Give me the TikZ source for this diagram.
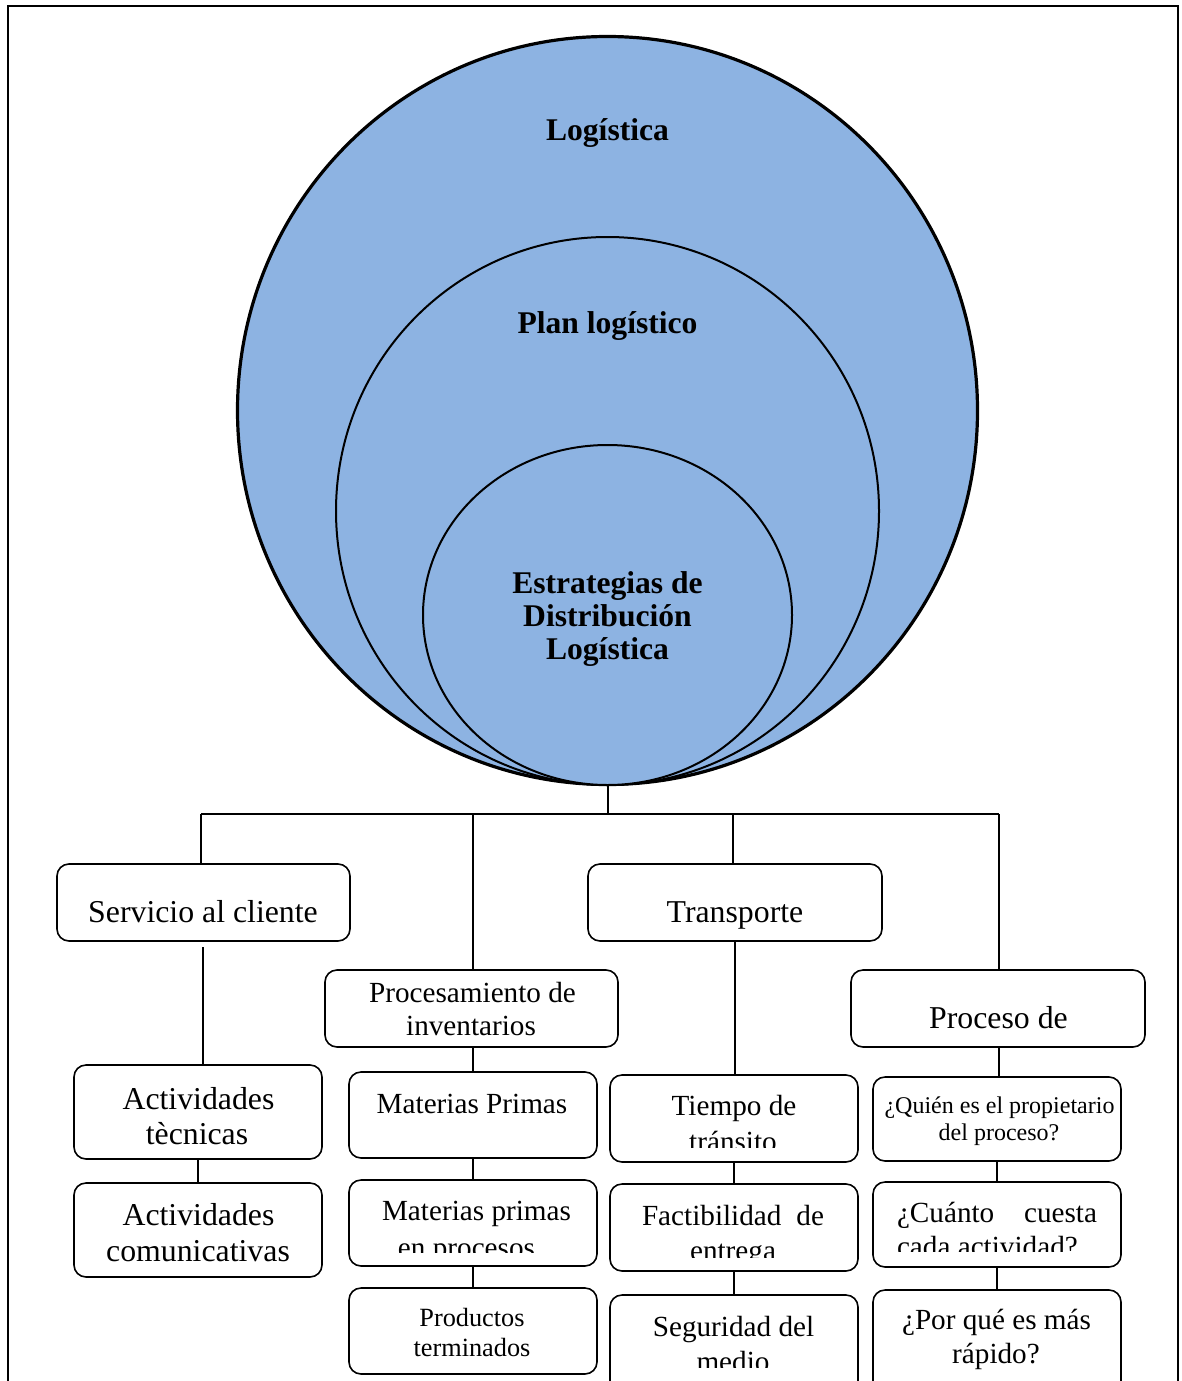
\documentclass[tikz,border=0pt]{standalone}
\usepackage{fontspec}
\setmainfont{Liberation Serif}
\usetikzlibrary{shapes.geometric}
\definecolor{disc}{RGB}{141,179,226}

\tikzset{
  ring/.style={ellipse, draw, fill=disc, inner sep=0pt, outer sep=0pt},
  tbox/.style={draw, rounded corners=12pt, line width=1.6pt, inner sep=0pt, outer sep=0pt},
  link/.style={line width=1.7pt},
  lab/.style={inner sep=0pt, outer sep=0pt, anchor=base},
  fA/.style={font=\fontsize{31.8}{33}\selectfont},
  fB/.style={font=\fontsize{29.2}{31}\selectfont},
  fC/.style={font=\fontsize{26.3}{28}\selectfont},
  fD/.style={font=\fontsize{24}{26}\selectfont},
  fH/.style={font=\bfseries\fontsize{31.6}{33}\selectfont},
}

% box: name, x1, y1, x2, y2
\newcommand\boxat[5]{%
  \node[tbox, minimum width={#4-#2}, minimum height={#5-#3}] (#1) at ({(#2+#4)/2},{(#3+#5)/2}) {};}
% text line clipped to a region: name, style, x, baseline, x1, y1, x2, y2, text
\newcommand\cliptext[9]{%
  \begin{scope}
    \clip (#5,#6) rectangle (#7,#8);
    \node[lab,#2] (#1) at (#3,#4) {#9};
  \end{scope}}

\begin{document}
\begin{tikzpicture}[x=1pt,y=-1pt]
  \clip (0,0) rectangle (1181,1381);

  % outer frame
  \draw[line width=2pt] (7.5,1381) -- (7.5,6.5) -- (1177.5,6.5) -- (1177.5,1381);

  % nested discs
  \node[ring, line width=3.2pt, minimum width=740, minimum height=748] (outer) at (607.5,410.5) {};
  \node[ring, line width=2pt, minimum width=543, minimum height=548] (mid) at (607.5,511) {};
  \node[ring, line width=2pt, minimum width=369, minimum height=340] (inn) at (607.5,615) {};

  \node[lab,fH] (hL) at (607.5,140) {Logística};
  \node[lab,fH] (hP) at (607.5,333) {Plan logístico};
  \node[lab,fH] (hE1) at (607.5,593) {Estrategias de};
  \node[lab,fH] (hE2) at (607.5,626) {Distribución};
  \node[lab,fH] (hE3) at (607.5,659) {Logística};

  % first level
  \boxat{svc}{57}{864}{350}{941}
  \boxat{tra}{588}{864}{882}{941}
  \boxat{pro}{325}{970}{618}{1047}
  \boxat{pde}{851}{970}{1145}{1047}

  \node[lab,fA] (t1) at (203,922) {Servicio al cliente};
  \node[lab,fA] (t2) at (735,922) {Transporte};
  \node[lab,fB] (t3) at (472.5,1002) {Procesamiento de};
  \node[lab,fB] (t4) at (471,1035) {inventarios};
  \node[lab,fA] (t5) at (998.5,1028) {Proceso de};

  % customer service column
  \boxat{at1}{74}{1065}{322}{1159}
  \boxat{at2}{74}{1183}{322}{1277}
  \node[lab,fA] (t6) at (198.5,1109) {Actividades};
  \node[lab,fA] (t7) at (197,1144) {tècnicas};
  \node[lab,fA] (t8) at (198.5,1225) {Actividades};
  \node[lab,fA] (t9) at (198,1261) {comunicativas};

  % inventory column
  \boxat{mp1}{349}{1072}{597}{1158}
  \boxat{mp2}{349}{1180}{597}{1266}
  \boxat{mp3}{349}{1288}{597}{1374}
  \node[lab,fB] (t10) at (472,1113) {Materias Primas};
  \node[lab,fB] (t11) at (476.5,1220) {Materias primas};
  \cliptext{t12}{fB}{466.5}{1257}{349}{1180}{597}{1252}{en procesos}
  \node[lab,fC] (t13) at (472,1326) {Productos};
  \node[lab,fC] (t14) at (472,1356) {terminados};

  % transport column
  \boxat{tr1}{610}{1075}{858}{1162}
  \boxat{tr2}{610}{1184}{858}{1271}
  \boxat{tr3}{610}{1295}{858}{1400}
  \node[lab,fB] (t15) at (734,1115) {Tiempo de};
  \cliptext{t16}{fB}{733}{1151}{610}{1075}{858}{1147}{tránsito}
  \node[lab,fB] (t17) at (733,1225) {\makebox[182pt][s]{Factibilidad\hfill de}};
  \cliptext{t18}{fB}{733}{1260}{610}{1184}{858}{1257}{entrega}
  \node[lab,fB] (t19) at (733.5,1336) {Seguridad del};
  \cliptext{t20}{fB}{733}{1371}{610}{1295}{858}{1367}{medio}

  % process column
  \boxat{pq1}{873}{1077}{1121}{1161}
  \boxat{pq2}{873}{1182}{1121}{1267}
  \boxat{pq3}{873}{1290}{1121}{1400}
  \node[lab,fD] (t21) at (999.5,1113) {¿Quién es el propietario};
  \node[lab,fD] (t22) at (999,1140) {del proceso?};
  \node[lab,fB] (t23) at (997,1222) {\makebox[200pt][s]{¿Cuánto\hfill cuesta}};
  \cliptext{t24}{fB,anchor=base west}{897}{1256}{873}{1182}{1121}{1251}{cada actividad?}
  \node[lab,fB] (t25) at (996.5,1329) {¿Por qué es más};
  \node[lab,fB] (t26) at (996,1363) {rápido?};

  % connectors
  \coordinate (j) at (608,814);
  \draw[link] ([xshift=0.5pt]outer.south) -- (j);
  \draw[link] ([xshift=-2.5pt]svc.north |- j) -- ([xshift=1pt]pde.north |- j);
  \draw[link] ([xshift=-2.5pt]svc.north |- j) -- ([xshift=-2.5pt]svc.north);
  \draw[link] ([xshift=1.5pt]pro.north |- j) -- ([xshift=1.5pt]pro.north);
  \draw[link] ([xshift=-2pt]tra.north |- j) -- ([xshift=-2pt]tra.north);
  \draw[link] ([xshift=1pt]pde.north |- j) -- ([xshift=1pt]pde.north);
  % vertical chains below each heading
  \draw[link, shorten <=6pt] ([xshift=-0.5pt]svc.south) -- ([xshift=-0.5pt]svc.south |- at1.north);
  \draw[link] (at1.south) -- (at2.north);
  \draw[link] ([xshift=1.5pt]pro.south) -- ([xshift=1.5pt]pro.south |- mp1.north);
  \draw[link] (mp1.south) -- (mp2.north);
  \draw[link] (mp2.south) -- (mp3.north);
  \draw[link] (tra.south) -- (tra.south |- tr1.north);
  \draw[link] (tr1.south) -- (tr2.north);
  \draw[link] (tr2.south) -- (tr3.north);
  \draw[link] ([xshift=1pt]pde.south) -- ([xshift=1pt]pde.south |- pq1.north);
  \draw[link] (pq1.south) -- (pq2.north);
  \draw[link] (pq2.south) -- (pq3.north);
\end{tikzpicture}
\end{document}
